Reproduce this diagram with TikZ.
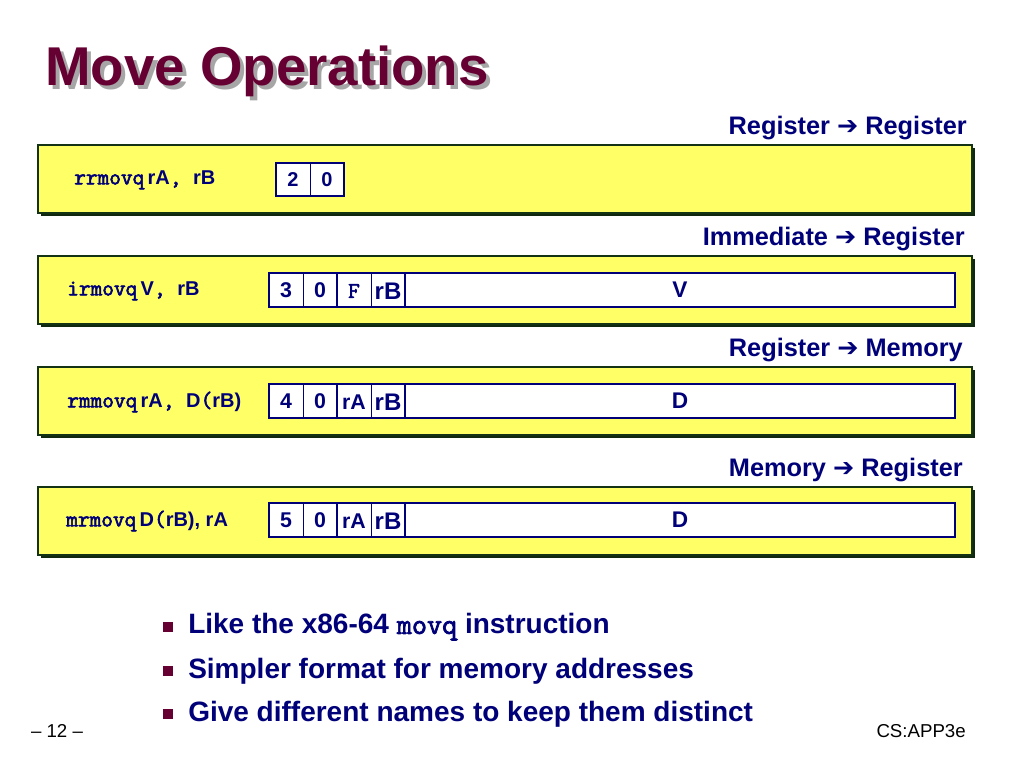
\documentclass[tikz,border=0pt]{standalone}
\usepackage{fontspec}
\setmainfont{Liberation Sans}
\newfontfamily\dv{DejaVu Sans}
\newfontfamily\mono[FakeBold=2.5]{Latin Modern Mono}
\definecolor{navy}{RGB}{0,0,120}
\definecolor{maroon}{RGB}{102,0,51}
\definecolor{ylw}{RGB}{255,255,102}
\definecolor{dgreen}{RGB}{20,50,20}
\newcommand{\cw}[1]{{\mono\fontsize{17}{20}\selectfont #1}}
\tikzset{
 panel/.style={draw=dgreen,line width=1.2pt,fill=ylw},
 cell/.style={draw=navy,line width=0.5pt,fill=white},
 lbl/.style={font=\bfseries\fontsize{19}{22}\selectfont,text=navy,anchor=east,inner sep=0},
 ins/.style={font=\bfseries\fontsize{15}{18}\selectfont,text=navy,anchor=west,inner sep=0},
 ctxt/.style={font=\bfseries\fontsize{15}{18}\selectfont,text=navy,inner sep=0},
 bul/.style={font=\bfseries\fontsize{21}{24}\selectfont,text=navy,anchor=west,inner sep=0},
}
\begin{document}
\begin{tikzpicture}[x=0.75pt,y=-0.75pt]
\useasboundingbox (0,0) rectangle (1024,767);
% title
\node[anchor=west,inner sep=0,text=gray!70,font=\bfseries\fontsize{41}{44}\selectfont] at (49,75) {Move Operations};
\node[anchor=west,inner sep=0,text=maroon,font=\bfseries\fontsize{41}{44}\selectfont] (title) at (45,71) {Move Operations};
% panels
\foreach \t/\n in {145/p1,256/p2,367/p3,487/p4}{
  \fill[dgreen!80!black] (41,\t+3) rectangle (975,\t+71);
  \draw[panel] (38,\t) rectangle (972,\t+68);
  \coordinate (\n) at (38,\t);
}
% labels
\node[lbl] (l1) at (967,128) {Register {\dv\bfseries\char"2794} Register};
\node[lbl] (l2) at (965,239) {Immediate {\dv\bfseries\char"2794} Register};
\node[lbl] (l3) at (963,350) {Register {\dv\bfseries\char"2794} Memory};
\node[lbl] (l4) at (963,470) {Memory {\dv\bfseries\char"2794} Register};
% instructions
\node[ins] (i1) at (74,180) {\cw{rrmovq}\,rA\cw{, }rB};
\node[ins] (i2) at (67,291) {\cw{irmovq}\,V\cw{, }rB};
\node[ins] (i3) at (67,402) {\cw{rmmovq}\,rA\cw{, }D\cw{(}rB)};
\node[ins] (i4) at (66,521) {\cw{mrmovq}\,D\cw{(}rB), rA};
% row1
\draw[cell] (276,163) rectangle (344,196);
\draw[navy,line width=0.5pt] (310,163) -- (310,196);
\draw[navy,line width=1.5pt] (276,163) rectangle (344,196);
\node[ctxt] (c10) at (293,180) {2};
\node[ctxt] (c11) at (327,180) {0};
% rows 2-4
\foreach \y/\a/\b/\c/\d/\e in {273/3/0/\cw{F}/rB/V,384/4/0/rA/rB/D,503/5/0/rA/rB/D}{
  \fill[white] (269,\y) rectangle (955,\y+34);
  \draw[navy,line width=0.5pt] (303,\y) -- (303,\y+34) (371,\y) -- (371,\y+34);
  \draw[navy,line width=1.5pt] (269,\y) rectangle (955,\y+34) (337,\y) -- (337,\y+34) (405,\y) -- (405,\y+34);
  \node[ctxt,font=\bfseries\fontsize{16}{20}\selectfont] at (286,\y+17) {\a};
  \node[ctxt,font=\bfseries\fontsize{16}{20}\selectfont] at (320,\y+17) {\b};
  \node[ctxt,font=\bfseries\fontsize{16}{20}\selectfont] at (354,\y+18) {\c};
  \node[ctxt,font=\bfseries\fontsize{18}{22}\selectfont] at (388,\y+18) {\d};
  \node[ctxt,font=\bfseries\fontsize{17}{20}\selectfont] at (680,\y+17) {\e};
}
% bullets
\foreach \y/\n in {627/b1,671/b2,714/b3}{
  \fill[maroon] (163,\y-5) rectangle (173,\y+5);
  \coordinate (\n) at (188,\y);
}
\node[bul] at (b1) {Like the x86-64 {\mono\fontsize{22}{24}\selectfont movq} instruction};
\node[bul] at (b2) {Simpler format for memory addresses};
\node[bul] at (b3) {Give different names to keep them distinct};
\node[inner sep=0,font=\fontsize{14}{16}\selectfont] (pg) at (57,731) {-- 12 --};
\node[inner sep=0,font=\fontsize{14}{16}\selectfont,anchor=east] (cs) at (966,731) {CS:APP3e};
\end{tikzpicture}
\end{document}
